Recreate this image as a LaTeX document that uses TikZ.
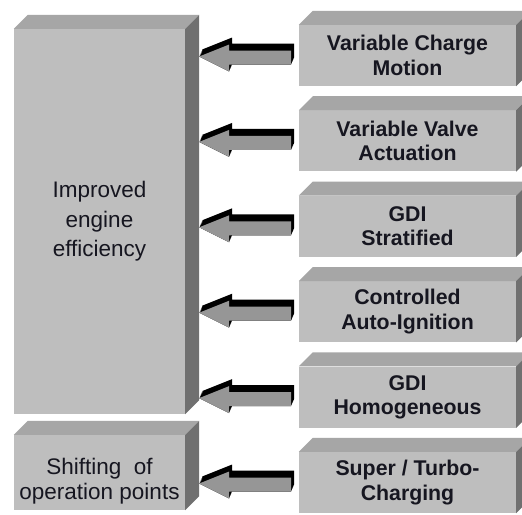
\documentclass[tikz,border=0pt]{standalone}
\usepackage{fontspec}
\setmainfont{Liberation Sans}
\usetikzlibrary{calc}
\definecolor{frontc}{RGB}{190,190,190}
\definecolor{topc}{RGB}{166,166,166}
\definecolor{sidec}{RGB}{112,112,112}
\definecolor{arrc}{RGB}{150,150,150}
\definecolor{txtc}{RGB}{22,22,32}
\newcommand\boxdepth[1]{%
  \fill[topc] (#1.north west) -- ++(14,-14) -- ($(#1.north east)+(14,-14)$) -- (#1.north east) -- cycle;
  \fill[sidec] (#1.north east) -- ++(14,-14) -- ($(#1.south east)+(14,-14)$) -- (#1.south east) -- cycle;}
\tikzset{
  frontface/.style={fill=frontc, inner sep=0pt, align=center, text=txtc},
  rbox/.style={frontface, minimum width=217pt, minimum height=61pt,
    font=\bfseries\fontsize{21.3}{24.5}\selectfont},
  lbox/.style={frontface, minimum width=171pt,
    font=\fontsize{22.5}{29.5}\selectfont},
  ltext/.style={inner sep=0pt, align=center, text=txtc, font=\fontsize{22.5}{25}\selectfont},
  arr/.pic={
    \foreach \s in {0,1,...,8}{
      \fill[black, shift={({3*\s/8},{-7*\s/8})}] (0,-1) -- (30,-13) -- (30,-7) -- (92,-7) -- (92,7) -- (30,7) -- (30,14) -- cycle;
    }
    \fill[arrc] (0,-1) -- (30,-13) -- (30,-7) -- (92,-7) -- (92,7) -- (30,7) -- (30,14) -- cycle;
  }
}
\begin{document}
\begin{tikzpicture}[x=1pt, y=-1pt]
  \useasboundingbox (0,0) rectangle (522,514);
  \clip (0,0) rectangle (522,514);
  \fill[white] (0,0) rectangle (522,514);
  % left boxes
  \node[lbox, minimum height=385pt] (big) at (99.5,221.5) {Improved\\engine\\efficiency};
  \boxdepth{big}
  \node[lbox, minimum height=75pt] (small) at (99.5,472.5) {};
  \boxdepth{small}
  \node[ltext] (smalltxt) at (99.5,481) {Shifting\ \ of\\operation points};
  % right boxes
  \node[rbox] (r1) at (407.5,55.5) {Variable Charge\\Motion};
  \node[rbox] (r2) at (407.5,140.9) {Variable Valve\\Actuation};
  \node[rbox] (r3) at (407.5,226.3) {GDI\\Stratified};
  \node[rbox] (r4) at (407.5,311.7) {Controlled\\Auto-Ignition};
  \node[rbox] (r5) at (407.5,397.1) {GDI\\Homogeneous};
  \node[rbox] (r6) at (407.5,482.5) {Super / Turbo-\\Charging};
  \foreach \n in {r1,r2,r3,r4,r5,r6}{\boxdepth{\n}}
  % arrows
  \foreach \n in {r1,r2,r3,r4,r5}{
    \pic at ($(big.east |- \n.west)+(14,2)$) {arr};
  }
  \pic at ($(small.east |- r6.west)+(14,2)$) {arr};
\end{tikzpicture}
\end{document}
